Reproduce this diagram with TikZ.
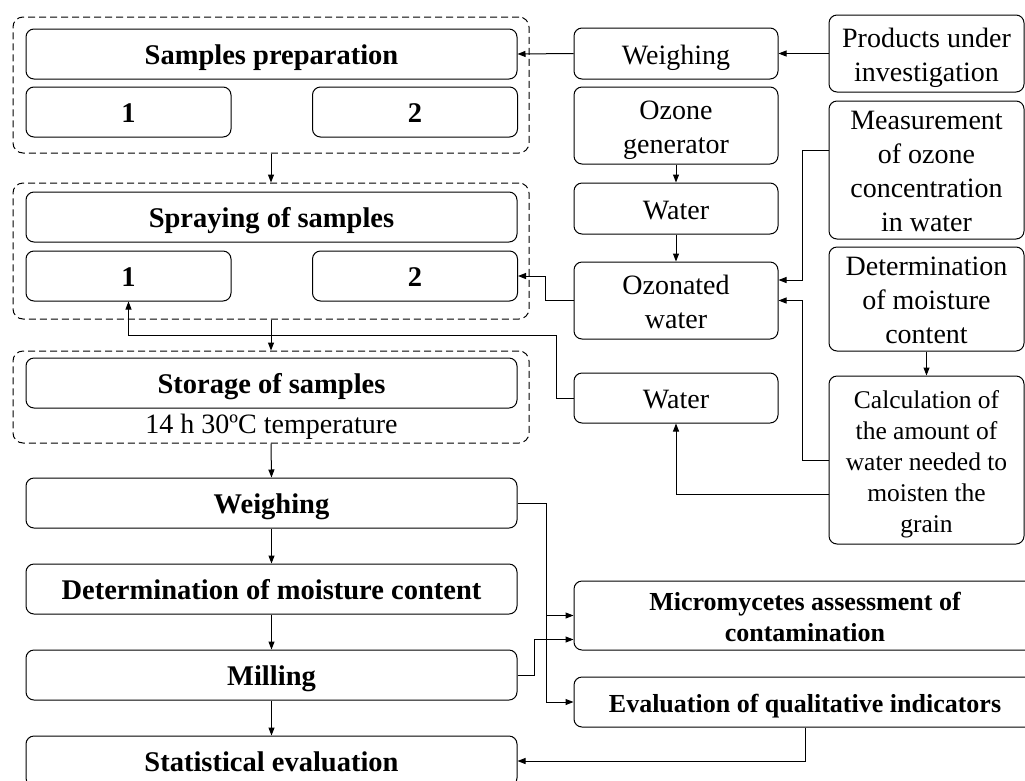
\documentclass[tikz,border=0pt]{standalone}
\usepackage{fontspec}
\setmainfont{Liberation Serif}
\usetikzlibrary{positioning,arrows.meta,fit,calc}
\newcommand{\topstrut}{\rule{0pt}{28.5pt}}
\newcommand{\botstrut}{\rule[-7.5pt]{0pt}{7.5pt}}

\begin{document}
\begin{tikzpicture}[x=1pt, y=-1pt, line width=1pt,
  box/.style={draw, rounded corners=8pt, align=center, inner sep=0pt, font=\fontsize{28}{34}\selectfont,
    execute at end node=\botstrut},
  wide/.style={box, minimum width=491pt, minimum height=50pt, font=\fontsize{28.5}{34}\selectfont\bfseries},
  num/.style={box, minimum width=205pt, minimum height=50pt, font=\fontsize{28.5}{34}\selectfont\bfseries},
  mid/.style={box, minimum width=204pt},
  side/.style={box, minimum width=195pt},
  lowr/.style={box, minimum width=462pt, font=\fontsize{26}{31.5}\selectfont\bfseries},
  grp/.style={draw, dash pattern=on 7pt off 4pt, rounded corners=10pt, inner sep=0pt},
  arr/.style={-{Triangle[length=8pt,width=6pt]}}]
\useasboundingbox (0,0) rectangle (1025,780);
% left column: sample groups
\node[wide] (prep) at (271.5,54) {\topstrut Samples preparation};
\node[num] (p1) at (128.5,112) {\topstrut 1};
\node[num] (p2) at (415,112) {\topstrut 2};
\node[grp, fit={(13,17) (529,153)}] (grp1) {};
\node[wide] (spray) at (271.5,217) {\topstrut Spraying of samples};
\node[num] (s1) at (128.5,276) {\topstrut 1};
\node[num] (s2) at (415,276) {\topstrut 2};
\node[grp, fit={(13,183) (529,319)}] (grp2) {};
\node[wide] (stor) at (271.5,383) {\topstrut Storage of samples};
\node[font=\fontsize{28}{34}\selectfont, inner sep=0pt] (temp) at (271.5,427) {14 h 30ºC temperature};
\node[grp, fit={(13,351) (529,443)}] (grp3) {};
% left column: analysis steps
\node[wide] (weigh2) at (271.5,503) {\topstrut Weighing};
\node[wide, below=35pt of weigh2] (moist2) {\topstrut Determination of moisture content};
\node[wide, below=35pt of moist2] (mill) {\topstrut Milling};
\node[wide, below=35pt of mill] (stat) {\topstrut Statistical evaluation};
% middle column
\node[mid, minimum height=51pt] (weigh1) at (676,53.5) {\topstrut Weighing};
\node[mid, minimum height=77pt] (ozgen) at (676,125.5) {\topstrut Ozone\\generator};
\node[mid, minimum height=51pt] (water1) at (676,208.5) {\topstrut Water};
\node[mid, minimum height=77pt] (ozw) at (676,300.5) {\topstrut Ozonated\\water};
\node[mid, minimum height=50pt] (water2) at (676,398) {\topstrut Water};
% right column
\node[side, minimum height=77pt] (prod) at (926.5,53.5) {\topstrut Products under\\investigation};
\node[side, minimum height=136pt] (meas) at (926.5,170) {\topstrut Measurement\\of ozone\\concentration\\in water};
\node[side, minimum height=102pt] (detm) at (926.5,299) {\topstrut Determination\\of moisture\\content};
\node[side, minimum height=168pt, font=\fontsize{25.5}{31}\selectfont] (calc) at (926.5,460) {\topstrut Calculation of\\the amount of\\water needed to\\moisten the\\grain};
% lower right
\node[lowr, minimum height=69pt] (micro) at (805,615.5) {\topstrut Micromycetes assessment of\\contamination};
\node[lowr, minimum height=50pt] (eval) at (805,702) {\topstrut Evaluation of qualitative indicators};
% connectors
\draw[arr] (prod.west) -- (weigh1.east);
\draw[arr] (weigh1.west) -- (prep.east);
\draw[arr] (grp1.south) -- (grp2.north);
\draw[arr] (grp2.south) -- (grp3.north);
\draw[arr] (grp3.south) -- (weigh2.north);
\draw[arr] (weigh2.south) -- (moist2.north);
\draw[arr] (moist2.south) -- (mill.north);
\draw[arr] (mill.south) -- (stat.north);
\draw[arr] (ozgen.south) -- (water1.north);
\draw[arr] (water1.south) -- (ozw.north);
\draw[arr] (detm.south) -- (calc.north);
\draw[arr] ([yshift=20pt]meas.west) -- ++(-26,0) |- ([yshift=20.5pt]ozw.east);
\draw[arr] (calc.west) -- ++(-26,0) |- (ozw.east);
\draw[arr] ([yshift=-34pt]calc.west) -| (water2.south);
\draw[arr] (ozw.west) -- ++(-28,0) |- (s2.east);
\draw[arr] (water2.west) -- ++(-17,0) -- ++(0,-63) -| (s1.south);
\draw[arr] (weigh2.east) -- ++(29,0) |- (eval.west);
\draw[arr] ($(weigh2.east)+(29,0)$) |- (micro.west);
\draw[arr] (mill.east) -- ++(17,0) |- ([yshift=-24pt]micro.west);
\draw[arr] (eval.south) |- (stat.east);
\end{tikzpicture}
\end{document}
